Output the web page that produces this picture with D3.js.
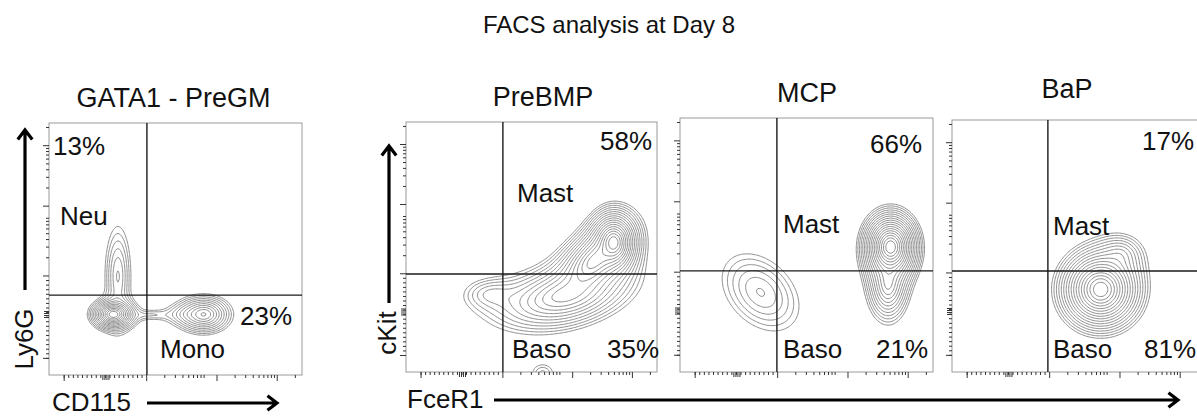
<!DOCTYPE html>
<html>
<head>
<meta charset="utf-8">
<script src="https://cdn.jsdelivr.net/npm/d3@7"></script>
<style>
  body { margin: 0; background: #fff; }
  text { font-family: "Liberation Sans", Arial, sans-serif; fill: #111; }
</style>
</head>
<body>
<script>
  // panel titles and quadrant percentages
  const panelTitles = ["GATA1 - PreGM", "PreBMP", "MCP", "BaP"];
  const upperPct = ["13%", "58%", "66%", "17%"];
  const lowerPct = ["23%", "35%", "21%", "81%"];
  const upperName = ["Neu", "Mast", "Mast", "Mast"];
  const lowerName = ["Mono", "Baso", "Baso", "Baso"];

  // quadrant gates (axis units 0..100)
  const gateX = [38.7, 38.6, 38.3, 37.9];
  const gateY = [31.7, 39.2, 39.8, 40.1];

  // populations: centre, spread, tilt, relative height
  const preGM = [
    { x: 25.2, y: 23.8, sx: 2.0, sy: 1.4, r: 0, w: 1 },
    { x: 27, y: 38.9, sx: 2.2, sy: 8.5, r: 0, w: 0.07 },
    { x: 40, y: 23.6, sx: 5, sy: 1.2, r: 0, w: 0.025 },
    { x: 61, y: 23.8, sx: 3.0, sy: 2.1, r: 0, w: 0.3 },
    { x: 55, y: 23.8, sx: 3.5, sy: 1.8, r: 0, w: 0.05 },
  ];
  const preBMP = [
    { x: 82.5, y: 51.6, sx: 2.3, sy: 3.1, r: 0, w: 1 },
    { x: 74.5, y: 44, sx: 4.5, sy: 4.5, r: 0.5, w: 0.45 },
    { x: 62, y: 30, sx: 9, sy: 4.5, r: 0.35, w: 0.2 },
    { x: 33.5, y: 30.8, sx: 5.6, sy: 3.2, r: 0, w: 0.04 },
    { x: 54.2, y: -1, sx: 3.2, sy: 2.8, r: 0, w: 0.03 },
  ];
  const mcp = [
    { x: 31.6, y: 31.1, sx: 7.8, sy: 7.8, r: -0.35, w: 0.05 },
    { x: 83, y: 49, sx: 2.6, sy: 3.3, r: 0, w: 1 },
    { x: 82, y: 34, sx: 2.8, sy: 5, r: 0, w: 0.15 },
  ];
  const baP = [
    { x: 58.5, y: 32.5, sx: 3.8, sy: 3.8, r: 0, w: 1 },
    { x: 66.4, y: 46.4, sx: 4, sy: 3.5, r: 0, w: 0.05 },
  ];
  const populations = [preGM, preBMP, mcp, baP];
  const ringCount = [14, 17, 18, 17];
  const ringFloor = [0.015, 0.015, 0.015, 0.015];

  // axis decades (axis units)
  const xMajor = [38.6, 66.4, 90.2];
  const xZero = 22.5;
  const yMajor = [6.6, 39.3, 67, 91];
  const yZero = 24;

  // layout
  const W = 1197, H = 417;
  const boxes = [
    [49, 123, 302, 375],
    [406, 122, 657, 372],
    [680, 118, 933, 372],
    [952, 120, 1205, 372],
  ];
  const titlePos = [[173.5, 107], [543, 106], [807, 102], [1067, 98]];
  const labelPos = [
    { up: [53, 155], upN: [60, 225], lowN: [160, 358], low: [240, 325] },
    { up: [600, 150], upN: [517, 202], lowN: [512, 358], low: [607, 358] },
    { up: [870, 153], upN: [783, 233], lowN: [783, 358], low: [876, 358] },
    { up: [1142, 150], upN: [1053, 235], lowN: [1053, 358], low: [1144, 358] },
  ];

  const svg = d3.select("body").append("svg").attr("width", W).attr("height", H);

  svg.append("text").attr("x", 609).attr("y", 33)
    .attr("text-anchor", "middle").attr("font-size", 24)
    .text("FACS analysis at Day 8");

  // smooth peak, exponential flanks
  function density(comps, x, y) {
    let s = 0;
    for (const c of comps) {
      const dx = (x - c.x) / c.sx, dy = (y - c.y) / c.sy;
      const q = (dx * dx + dy * dy - 2 * c.r * dx * dy) / (1 - c.r * c.r);
      s += c.w * Math.exp(1 - Math.sqrt(1 + q));
    }
    return s;
  }

  function minorTicks(majors, top) {
    const out = [];
    const a = majors[0], b = majors[1];
    const st = (b - a) / 18;
    for (let v = a; v < b - 0.1; v += st) out.push(v);
    const dec = majors[majors.length - 1] - majors[majors.length - 2];
    majors.slice(1).forEach((m) => {
      for (let k = 2; k <= 9; k++) {
        const v = m + dec * Math.log10(k);
        if (v <= top) out.push(v);
      }
    });
    return out;
  }

  const step = 0.5, lo = -6, hi = 106;
  const n = Math.round((hi - lo) / step);

  boxes.forEach((b, i) => {
    const [x0, y0, x1, y1] = b;
    const xs = d3.scaleLinear().domain([0, 100]).range([x0, x1]);
    const ys = d3.scaleLinear().domain([0, 100]).range([y1, y0]);
    const g = svg.append("g");

    // contours
    const comps = populations[i];
    const values = new Float64Array(n * n);
    for (let j = 0; j < n; j++)
      for (let k = 0; k < n; k++)
        values[k + j * n] = density(comps, lo + k * step, lo + j * step);
    const max = d3.max(values);
    const thresholds = d3.range(ringCount[i]).map(
      (k) => max * Math.pow(ringFloor[i], 1 - k / ringCount[i])
    );
    const proj = d3.geoTransform({
      point: function (px, py) {
        this.stream.point(xs(lo + px * step), ys(lo + py * step));
      },
    });
    const path = d3.geoPath(proj);
    svg.append("clipPath").attr("id", "clip" + i)
      .append("rect").attr("x", x0).attr("y", y0)
      .attr("width", x1 - x0).attr("height", y1 - y0);
    g.append("g").attr("clip-path", `url(#clip${i})`)
      .selectAll("path")
      .data(d3.contours().size([n, n]).thresholds(thresholds)(values))
      .join("path")
      .attr("d", path)
      .attr("fill", "none")
      .attr("stroke", "#7a7a7a")
      .attr("stroke-width", 0.85);

    // frame
    g.append("rect").attr("x", x0).attr("y", y0)
      .attr("width", x1 - x0).attr("height", y1 - y0)
      .attr("fill", "none").attr("stroke", "#9a9a9a").attr("stroke-width", 1);

    // gates
    g.append("line").attr("x1", xs(gateX[i])).attr("x2", xs(gateX[i]))
      .attr("y1", y0).attr("y2", y1).attr("stroke", "#1a1a1a").attr("stroke-width", 1.4);
    g.append("line").attr("x1", x0).attr("x2", x1)
      .attr("y1", ys(gateY[i])).attr("y2", ys(gateY[i]))
      .attr("stroke", "#1a1a1a").attr("stroke-width", 1.4);

    // ticks
    const tickG = g.append("g").attr("stroke", "#333").attr("stroke-width", 1);
    const xm = [6].concat(xMajor);
    minorTicks(xm, 99).forEach((v) => {
      tickG.append("line").attr("x1", xs(v)).attr("x2", xs(v))
        .attr("y1", y1).attr("y2", y1 + 3);
    });
    xm.forEach((v) => {
      tickG.append("line").attr("x1", xs(v)).attr("x2", xs(v))
        .attr("y1", y1).attr("y2", y1 + 6);
    });
    [-1.2, -0.4, 0.4, 1.2].forEach((d) => {
      tickG.append("line").attr("x1", xs(xZero + d)).attr("x2", xs(xZero + d))
        .attr("y1", y1).attr("y2", y1 + 5);
    });
    minorTicks(yMajor, 99).forEach((v) => {
      tickG.append("line").attr("y1", ys(v)).attr("y2", ys(v))
        .attr("x1", x0).attr("x2", x0 - 3);
    });
    yMajor.forEach((v) => {
      tickG.append("line").attr("y1", ys(v)).attr("y2", ys(v))
        .attr("x1", x0).attr("x2", x0 - 6);
    });
    [-1.2, -0.4, 0.4, 1.2].forEach((d) => {
      tickG.append("line").attr("y1", ys(yZero + d)).attr("y2", ys(yZero + d))
        .attr("x1", x0).attr("x2", x0 - 5);
    });

    // texts
    svg.append("text").attr("x", titlePos[i][0]).attr("y", titlePos[i][1])
      .attr("text-anchor", "middle").attr("font-size", 27).text(panelTitles[i]);
    const lp = labelPos[i];
    [[lp.up, upperPct[i]], [lp.upN, upperName[i]], [lp.lowN, lowerName[i]], [lp.low, lowerPct[i]]]
      .forEach(([p, t]) => {
        svg.append("text").attr("x", p[0]).attr("y", p[1]).attr("font-size", 26).text(t);
      });
  });

  // axis names and arrows
  function arrow(x1, y1, x2, y2) {
    const a = Math.atan2(y2 - y1, x2 - x1), L = 12, s = 0.65;
    const p = d3.path();
    p.moveTo(x1, y1); p.lineTo(x2, y2);
    p.moveTo(x2 - L * Math.cos(a - s), y2 - L * Math.sin(a - s));
    p.lineTo(x2, y2);
    p.lineTo(x2 - L * Math.cos(a + s), y2 - L * Math.sin(a + s));
    svg.append("path").attr("d", p.toString()).attr("fill", "none")
      .attr("stroke", "#000").attr("stroke-width", 3.2)
      .attr("stroke-linejoin", "miter");
  }
  arrow(25, 290, 25, 130);
  arrow(389, 303, 389, 146);
  arrow(147, 403, 277, 403);
  arrow(494, 400, 1178, 400);

  svg.append("text").attr("transform", "translate(33,339) rotate(-90)")
    .attr("text-anchor", "middle").attr("font-size", 26).text("Ly6G");
  svg.append("text").attr("transform", "translate(396,333) rotate(-90)")
    .attr("text-anchor", "middle").attr("font-size", 26).text("cKit");
  svg.append("text").attr("x", 52).attr("y", 411).attr("font-size", 26).text("CD115");
  svg.append("text").attr("x", 407).attr("y", 408).attr("font-size", 26).text("FceR1");
</script>
</body>
</html>
